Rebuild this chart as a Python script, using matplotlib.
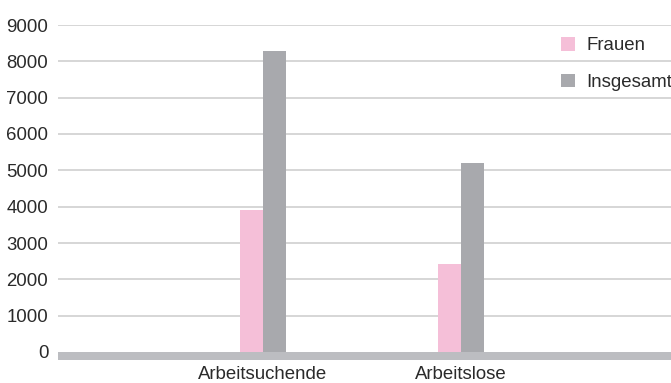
import matplotlib
matplotlib.use("Agg")
import matplotlib.pyplot as plt
import numpy as np

categories = ["Arbeitsuchende", "Arbeitslose"]
frauen = [3900, 2420]
insgesamt = [8280, 5200]
yticks = [0, 1000, 2000, 3000, 4000, 5000, 6000, 7000, 8000, 9000]

PINK = "#F5BFD8"
GREY = "#A8A9AD"
BAND = "#BCBDC1"
GRID = "#D0D0D0"
TEXT = "#2a2a2a"

plt.rcParams["font.family"] = ["Liberation Sans", "DejaVu Sans"]

W, H = 671, 383
fig = plt.figure(figsize=(W / 100, H / 100), dpi=100)
left, right, top, bottom = 58, 671, 25, 360
ax = fig.add_axes([left / W, (H - bottom) / H, (right - left) / W, (bottom - top) / H])

x = np.arange(len(categories))
bw = 0.116
ax.bar(x - bw / 2, frauen, width=bw, color=PINK, label="Frauen", zorder=3)
ax.bar(x + bw / 2, insgesamt, width=bw, color=GREY, label="Insgesamt", zorder=3)

band = 9000 * 8 / (352 - 25)
ax.set_ylim(-band, 9000)
ax.set_xlim(-1.035, 2.061)
ax.axhspan(-band, 0, color=BAND, zorder=2, lw=0)
for t in yticks[1:]:
    ax.axhline(t, color=GRID, lw=1.2, zorder=1)

ax.set_yticks(yticks)
ax.set_yticklabels([str(t) for t in yticks])
ax.set_xticks(x)
ax.set_xticklabels(categories)
ax.tick_params(axis="both", length=0, labelsize=13.4, colors=TEXT)
ax.tick_params(axis="y", pad=7)
ax.tick_params(axis="x", pad=4.5)
for s in ax.spines.values():
    s.set_visible(False)

leg = ax.legend(loc="upper left", bbox_to_anchor=(561 / W, 1 - 37 / H),
                bbox_transform=fig.transFigure, frameon=False, fontsize=13.4,
                handlelength=0.75, handleheight=0.75, handletextpad=0.6,
                labelspacing=1.05, borderpad=0, borderaxespad=0)
for t in leg.get_texts():
    t.set_color(TEXT)

fig.savefig("out.png", dpi=100)
